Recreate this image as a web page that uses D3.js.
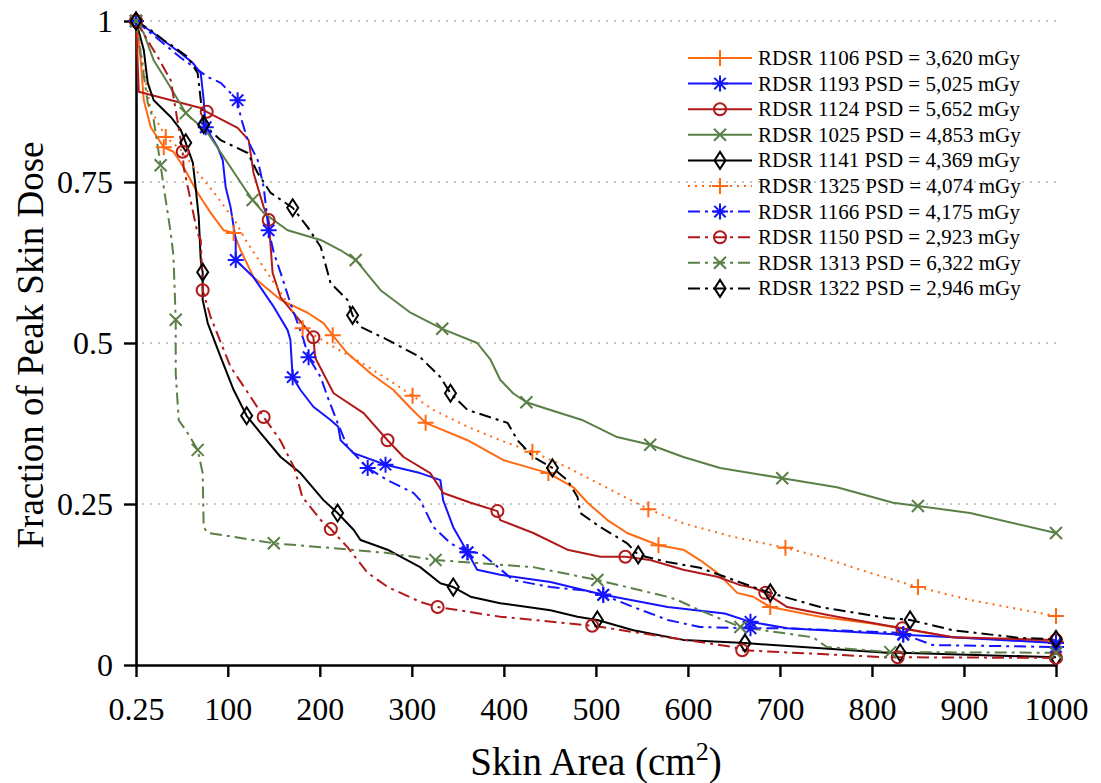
<!DOCTYPE html>
<html><head><meta charset="utf-8">
<script src="https://cdn.jsdelivr.net/npm/d3@7"></script>
<style>
body{margin:0;background:#fff}
svg{display:block}
text{font-family:"Liberation Serif","Times New Roman",serif;fill:#000}
</style>
</head><body>
<svg id="chart" width="1101" height="783"></svg>
<script>
// ---------------- data ----------------
const X_TICKS = [0.25,100,200,300,400,500,600,700,800,900,1000];
const Y_TICKS = [0,0.25,0.5,0.75,1];
const GRID_Y = [0.25,0.5,0.75,1];

const NAMES = ["RDSR 1106 PSD = 3,620 mGy","RDSR 1193 PSD = 5,025 mGy","RDSR 1124 PSD = 5,652 mGy",
  "RDSR 1025 PSD = 4,853 mGy","RDSR 1141 PSD = 4,369 mGy","RDSR 1325 PSD = 4,074 mGy",
  "RDSR 1166 PSD = 4,175 mGy","RDSR 1150 PSD = 2,923 mGy","RDSR 1313 PSD = 6,322 mGy",
  "RDSR 1322 PSD = 2,946 mGy"];

const rdsr1106 = [[0.25,1],[5.4,0.939],[8.7,0.877],[16.3,0.835],[30.4,0.804],[41,0.797],[52,0.773],[67.3,0.733],[81.4,0.702],[95.5,0.675],[106.4,0.671],[114,0.644],[128,0.602],[157.4,0.567],[186.7,0.547],[204,0.531],[214,0.512],[230,0.484],[255,0.453],[280,0.427],[298.6,0.399],[315,0.376],[360.5,0.349],[399.6,0.318],[448.4,0.298],[475.6,0.276],[491,0.252],[512.5,0.225],[534,0.205],[568,0.186],[595,0.179],[613,0.163],[632,0.143],[653.6,0.112],[671,0.106],[689.5,0.090],[743.8,0.075],[798,0.065],[830.6,0.057],[888,0.043],[1000,0.036]];
const mk1106 = [[0.25,1],[30.4,0.804],[106.4,0.671],[214,0.512],[315,0.376],[448.4,0.298],[568,0.186],[689.5,0.090],[1000,0.036]];

const rdsr1193 = [[0.25,1],[19.5,0.981],[48.9,0.950],[61.9,0.935],[70.6,0.919],[73.8,0.877],[76,0.835],[89,0.804],[94.5,0.784],[97.7,0.742],[103,0.711],[108.6,0.660],[108.6,0.629],[128,0.602],[150,0.556],[165,0.520],[168,0.505],[170,0.458],[170.5,0.447],[179,0.427],[193,0.401],[212,0.380],[220,0.370],[222.6,0.349],[236.7,0.329],[271.4,0.311],[309,0.298],[331,0.287],[334,0.256],[345,0.214],[360.5,0.175],[371,0.148],[396,0.140],[450.6,0.129],[508,0.109],[578,0.090],[640,0.080],[668,0.067],[708,0.057],[834,0.047],[888,0.043],[1000,0.034]];
const mk1193 = [[0.25,1],[76,0.835],[108.6,0.629],[170.5,0.447],[271.4,0.311],[360.5,0.175],[508,0.109],[668,0.067],[834,0.047],[1000,0.034]];

const rdsr1124 = [[0.25,1],[3.3,0.890],[70.6,0.865],[77.1,0.859],[110.7,0.834],[122.7,0.815],[128,0.764],[139,0.711],[144.4,0.691],[148.7,0.609],[157.4,0.571],[193,0.509],[195,0.477],[215,0.422],[247.6,0.391],[273.6,0.349],[291,0.323],[320,0.298],[334,0.267],[364,0.252],[393,0.239],[396,0.225],[432,0.205],[469,0.179],[505,0.168],[532,0.168],[559,0.163],[595,0.148],[632,0.137],[657,0.124],[671,0.120],[684,0.112],[708,0.090],[762,0.075],[833,0.057],[888,0.043],[1000,0.039]];
const mk1124 = [[0.25,1],[77.1,0.859],[144.4,0.691],[193,0.509],[273.6,0.349],[393,0.239],[532,0.168],[684,0.112],[833,0.057],[1000,0.039]];

const rdsr1025 = [[0.25,1],[8.7,0.981],[19.5,0.939],[34.7,0.904],[54.3,0.857],[78.2,0.826],[103,0.773],[121.6,0.733],[127,0.722],[139,0.702],[165,0.675],[201,0.660],[222.6,0.644],[239,0.629],[266,0.582],[298.6,0.547],[333,0.522],[371,0.500],[385.5,0.474],[396,0.443],[410,0.422],[424.5,0.408],[450.6,0.396],[486,0.380],[523,0.354],[559,0.342],[595,0.323],[635,0.306],[702.5,0.290],[762,0.276],[823,0.252],[850,0.247],[906.6,0.236],[1000,0.205]];
const mk1025 = [[0.25,1],[54.3,0.857],[127,0.722],[239,0.629],[333,0.522],[424.5,0.408],[559,0.342],[702.5,0.290],[850,0.247],[1000,0.205]];

const rdsr1141 = [[0.25,1],[8.7,0.955],[13,0.904],[19.5,0.877],[38,0.851],[48.9,0.831],[54.3,0.811],[62,0.780],[65,0.742],[68.4,0.696],[70.6,0.629],[72.7,0.610],[72.7,0.567],[78.2,0.531],[92.3,0.478],[106.4,0.427],[120.5,0.387],[135.7,0.360],[157.4,0.323],[179,0.298],[201,0.261],[204,0.256],[219.3,0.236],[236.7,0.210],[244.3,0.194],[273.6,0.179],[309,0.152],[331,0.127],[345,0.121],[363.7,0.106],[396,0.096],[450.6,0.085],[480,0.075],[501.6,0.070],[540.7,0.054],[595,0.039],[662,0.034],[816.5,0.019],[830.6,0.019],[1000,0.012]];
const mk1141 = [[0.25,1],[54.3,0.811],[72.7,0.610],[120.5,0.387],[219.3,0.236],[345,0.121],[501.6,0.070],[662,0.034],[830.6,0.019],[1000,0.012]];

const rdsr1325 = [[0.25,1],[8.7,0.924],[16.3,0.862],[32.6,0.820],[48.9,0.800],[65,0.769],[86.9,0.730],[108.6,0.688],[119.4,0.660],[141,0.613],[162.9,0.567],[181.3,0.523],[215,0.494],[244.3,0.470],[271.4,0.446],[300.8,0.418],[323.6,0.396],[360.5,0.370],[396,0.349],[431,0.331],[469,0.307],[523,0.267],[557,0.242],[595,0.220],[649,0.199],[706,0.182],[744,0.168],[798,0.143],[850,0.121],[906.6,0.101],[1000,0.076]];
const mk1325 = [[0.25,1],[32.6,0.820],[181.3,0.523],[300.8,0.418],[431,0.331],[557,0.242],[706,0.182],[850,0.121],[1000,0.076]];

const rdsr1166 = [[0.25,1],[48.9,0.943],[78.2,0.913],[92.3,0.904],[110.7,0.877],[114,0.851],[121.6,0.815],[132.5,0.784],[139,0.742],[144.4,0.675],[150,0.640],[157.4,0.609],[168,0.562],[182.4,0.505],[187.8,0.478],[200.9,0.447],[208.5,0.416],[219.3,0.376],[230,0.339],[252,0.306],[273.6,0.287],[302,0.267],[309,0.256],[323.6,0.214],[342,0.189],[360.5,0.175],[374.6,0.174],[388.7,0.158],[410,0.132],[450.6,0.121],[486,0.116],[508,0.109],[540.7,0.090],[578,0.070],[613,0.059],[668,0.057],[708,0.057],[830,0.050],[866,0.031],[1000,0.028]];
const mk1166 = [[0.25,1],[110.7,0.877],[144.4,0.675],[187.8,0.478],[252,0.306],[360.5,0.175],[508,0.109],[668,0.057],[834,0.048],[1000,0.028]];

const rdsr1150 = [[0.25,1],[23.9,0.944],[38,0.908],[51,0.797],[52,0.773],[67,0.671],[70.6,0.660],[72.7,0.582],[81.4,0.540],[103,0.463],[125,0.416],[139,0.385],[157,0.349],[172,0.307],[181,0.261],[201,0.225],[212,0.211],[230,0.183],[252,0.143],[274,0.121],[309,0.098],[328,0.090],[396,0.075],[496,0.061],[578,0.043],[649,0.028],[659,0.023],[816,0.012],[828,0.012],[1000,0.011]];
const mk1150 = [[0.25,1],[51,0.797],[72.7,0.582],[139,0.385],[212,0.211],[328,0.090],[496,0.061],[659,0.023],[828,0.012],[1000,0.011]];

const rdsr1313 = [[0.25,1],[13,0.873],[19.5,0.846],[27,0.776],[30.4,0.742],[38,0.671],[41,0.634],[43.4,0.536],[43.4,0.453],[46.7,0.380],[56.5,0.360],[67.3,0.334],[72.7,0.298],[73.8,0.214],[78.2,0.205],[106.4,0.199],[150,0.189],[201,0.183],[273.6,0.174],[325.7,0.163],[432,0.152],[501.6,0.132],[577.6,0.106],[588.5,0.101],[613,0.085],[657,0.059],[736,0.043],[751,0.028],[820,0.020],[1000,0.019]];
const mk1313 = [[0.25,1],[27,0.776],[43.4,0.536],[67.3,0.334],[150,0.189],[325.7,0.163],[501.6,0.132],[657,0.059],[820,0.020],[1000,0.019]];

const rdsr1322 = [[0.25,1],[16.3,0.986],[30.4,0.970],[41.3,0.960],[56.5,0.944],[67.3,0.919],[70.6,0.877],[73.8,0.839],[92.3,0.815],[121.6,0.795],[132.5,0.764],[146.6,0.733],[170.5,0.710],[186.7,0.680],[201,0.649],[211.7,0.593],[230,0.567],[235.6,0.543],[244.3,0.525],[273.6,0.505],[309,0.478],[331,0.447],[342,0.422],[360.5,0.396],[404,0.376],[414.8,0.349],[432,0.323],[452.8,0.306],[469,0.287],[480,0.261],[483,0.236],[505,0.214],[534,0.189],[546,0.171],[577.6,0.160],[613,0.151],[671,0.121],[689.5,0.112],[743.8,0.090],[816.5,0.073],[841.5,0.070],[888,0.054],[961,0.042],[1000,0.040]];
const mk1322 = [[0.25,1],[73.8,0.839],[170.5,0.710],[235.6,0.543],[342,0.422],[452.8,0.306],[546,0.171],[689.5,0.112],[841.5,0.070],[1000,0.040]];

// ---------------- styles ----------------
const ORANGE="#ff6a12", BLUE="#1414ff", RED="#b01a1a", GREEN="#5a7f47", BLACK="#000";
const SERIES = [
  {name:NAMES[0], pts:rdsr1106, mk:mk1106, color:ORANGE, dash:null, sym:"plus"},
  {name:NAMES[1], pts:rdsr1193, mk:mk1193, color:BLUE, dash:null, sym:"star"},
  {name:NAMES[2], pts:rdsr1124, mk:mk1124, color:RED, dash:null, sym:"circle"},
  {name:NAMES[3], pts:rdsr1025, mk:mk1025, color:GREEN, dash:null, sym:"x"},
  {name:NAMES[4], pts:rdsr1141, mk:mk1141, color:BLACK, dash:null, sym:"diamond"},
  {name:NAMES[5], pts:rdsr1325, mk:mk1325, color:ORANGE, dash:"2,5", sym:"plus"},
  {name:NAMES[6], pts:rdsr1166, mk:mk1166, color:BLUE, dash:"12,5,3,5", sym:"star"},
  {name:NAMES[7], pts:rdsr1150, mk:mk1150, color:RED, dash:"12,5,3,5", sym:"circle"},
  {name:NAMES[8], pts:rdsr1313, mk:mk1313, color:GREEN, dash:"12,5,3,5", sym:"x"},
  {name:NAMES[9], pts:rdsr1322, mk:mk1322, color:BLACK, dash:"12,5,3,5", sym:"diamond"}
];
const SYM = {
  plus:"M-8,0H8M0,-8V8",
  x:"M-6,-6L6,6M-6,6L6,-6",
  star:"M-8,0H8M0,-8V8M-5.7,-5.7L5.7,5.7M-5.7,5.7L5.7,-5.7",
  circle:"M6,0A6,6 0 1,1 -6,0A6,6 0 1,1 6,0Z",
  diamond:"M0,-8.5L5.5,0L0,8.5L-5.5,0Z"
};

// ---------------- chart ----------------
const svg = d3.select("#chart");
const x = d3.scaleLinear().domain([0.25,1000]).range([136,1056]);
const y = d3.scaleLinear().domain([0,1]).range([665,21]);

// grid
svg.append("g").selectAll("line").data(GRID_Y).join("line")
  .attr("x1",x(0.25)+6).attr("x2",1062)
  .attr("y1",d=>y(d)).attr("y2",d=>y(d))
  .attr("stroke","#c4c4c4").attr("stroke-width",2).attr("stroke-dasharray","2,6");

// axes
const gx = svg.append("g").attr("transform",`translate(0,${y(0)})`)
  .call(d3.axisBottom(x).tickValues(X_TICKS).tickSizeInner(12).tickSizeOuter(0)
    .tickFormat(d=>d===0.25?"0.25":d3.format("d")(d)));
const gy = svg.append("g").attr("transform",`translate(${x(0.25)},0)`)
  .call(d3.axisLeft(y).tickValues(Y_TICKS).tickSizeInner(12).tickSizeOuter(0)
    .tickFormat(d=>d===0?"0":d===1?"1":String(d)));
[gx,gy].forEach(g=>{
  g.select(".domain").attr("stroke","#000").attr("stroke-width",2.6);
  g.selectAll(".tick line").attr("stroke","#000").attr("stroke-width",2.4);
  g.selectAll(".tick text").attr("font-family","Liberation Serif, Times New Roman, serif")
    .attr("font-size",32).attr("fill","#000");
});
gx.selectAll(".tick text").attr("y",55).attr("dy",null);
gy.selectAll(".tick text").attr("x",-23).attr("dy","0.33em");

// lines
const line = d3.line().x(d=>x(d[0])).y(d=>y(d[1]));
const gs = svg.append("g");
SERIES.forEach(s=>{
  gs.append("path").datum(s.pts).attr("d",line)
    .attr("fill","none").attr("stroke",s.color).attr("stroke-width",2)
    .attr("stroke-dasharray",s.dash).attr("stroke-linejoin","round");
});
SERIES.forEach(s=>{
  gs.append("g").selectAll("path").data(s.mk).join("path")
    .attr("transform",d=>`translate(${x(d[0])},${y(d[1])})`)
    .attr("d",SYM[s.sym]).attr("fill","none")
    .attr("stroke",s.color).attr("stroke-width",2);
});

// legend
const lg = svg.append("g");
SERIES.forEach((s,i)=>{
  const yy = 58 + i*25.6;
  lg.append("line").attr("x1",688).attr("x2",752).attr("y1",yy).attr("y2",yy)
    .attr("stroke",s.color).attr("stroke-width",2).attr("stroke-dasharray",s.dash);
  lg.append("path").attr("transform",`translate(720,${yy})`).attr("d",SYM[s.sym])
    .attr("fill","none").attr("stroke",s.color).attr("stroke-width",2);
  lg.append("text").attr("x",758).attr("y",yy+7).attr("font-size",21).text(s.name);
});

// titles
svg.append("text").attr("transform","translate(43,345) rotate(-90)")
  .attr("text-anchor","middle").attr("font-size",37).text("Fraction of Peak Skin Dose");
const xt = svg.append("text").attr("x",596).attr("y",775).attr("text-anchor","middle").attr("font-size",39);
xt.append("tspan").text("Skin Area (cm");
xt.append("tspan").attr("dy",-15).attr("font-size",26).text("2");
xt.append("tspan").attr("dy",15).text(")");
</script>
</body></html>
